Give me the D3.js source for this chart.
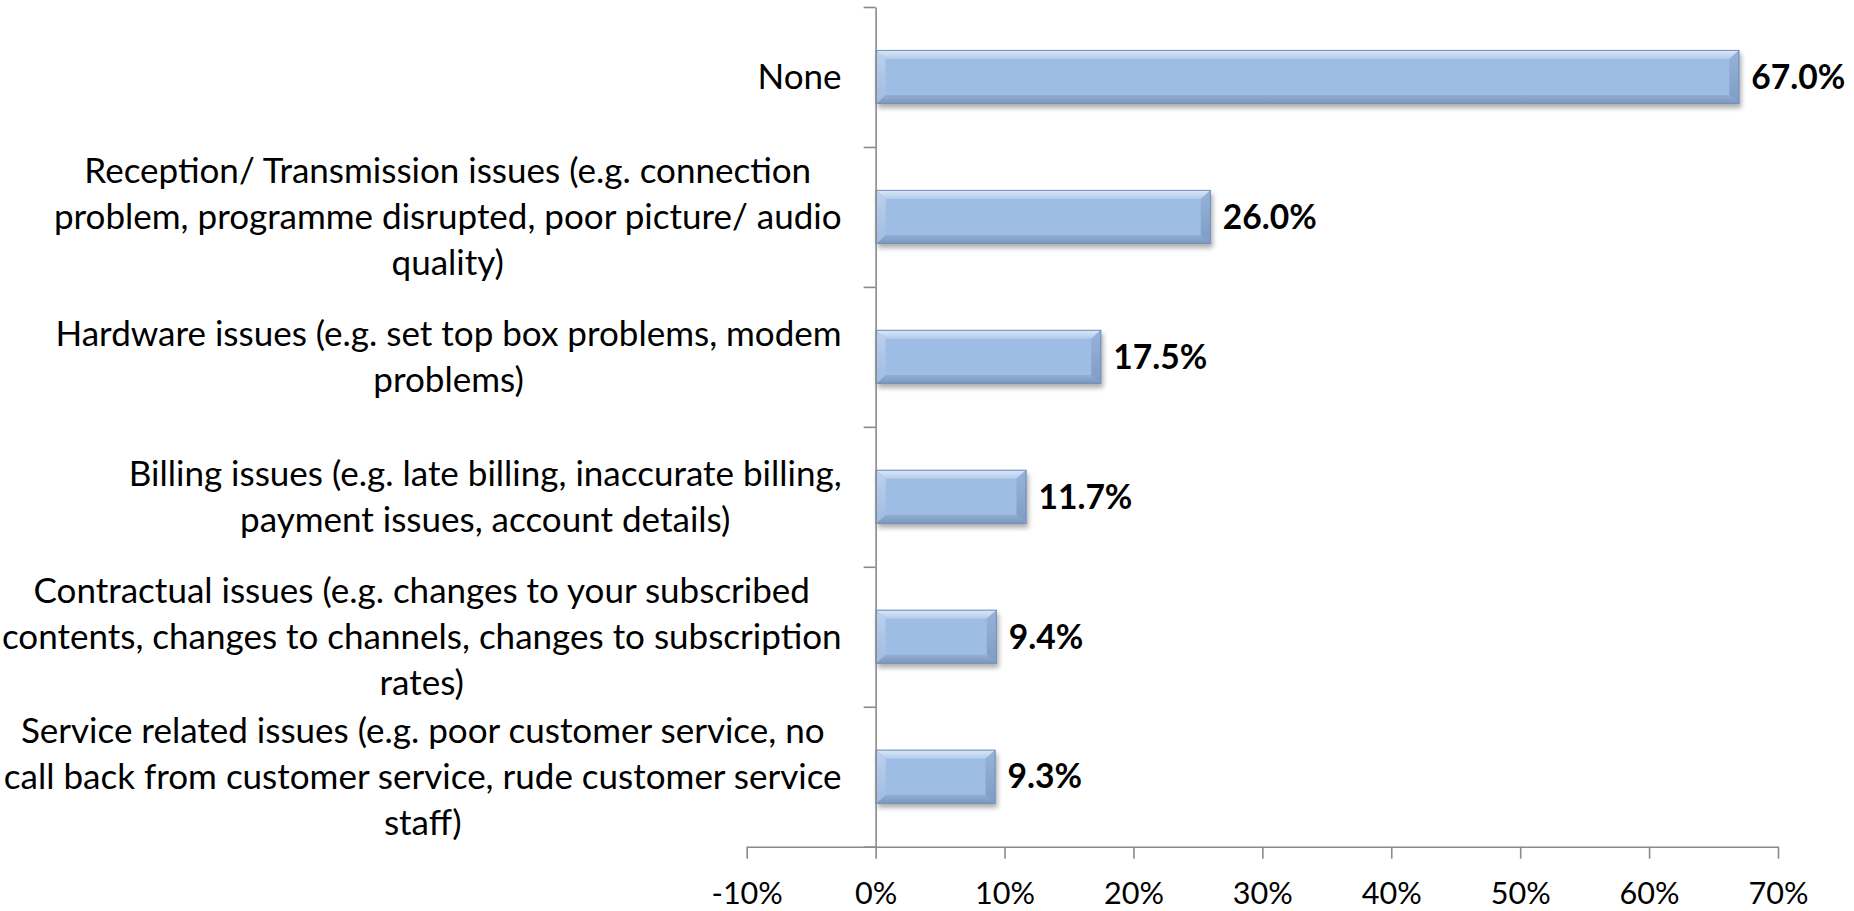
<!DOCTYPE html>
<html>
<head>
<meta charset="utf-8">
<script src="https://cdn.jsdelivr.net/npm/d3@7"></script>
<style>
  html, body { margin: 0; padding: 0; background: #ffffff; overflow: hidden; }
  svg { display: block; }
</style>
</head>
<body>
<svg id="chart" width="1854" height="911"></svg>
<script>
// Problems experienced with the pay-TV service (share of respondents)
const categories = [
  ["None"],
  ["Reception/ Transmission issues (e.g. connection",
   "problem, programme disrupted, poor picture/ audio",
   "quality)"],
  ["Hardware issues (e.g. set top box problems, modem",
   "problems)"],
  ["Billing issues (e.g. late billing, inaccurate billing,",
   "payment issues, account details)"],
  ["Contractual issues (e.g. changes to your subscribed",
   "contents, changes to channels, changes to subscription",
   "rates)"],
  ["Service related issues (e.g. poor customer service, no",
   "call back from customer service, rude customer service",
   "staff)"]
];
const values = [67.0, 26.0, 17.5, 11.7, 9.4, 9.3];
const valueLabels = ["67.0%", "26.0%", "17.5%", "11.7%", "9.4%", "9.3%"];
const tickValues = [-10, 0, 10, 20, 30, 40, 50, 60, 70];
const tickLabels = ["-10%", "0%", "10%", "20%", "30%", "40%", "50%", "60%", "70%"];

const W = 1854, H = 911;
const FONT = "Lato, 'Open Sans', 'Noto Sans', sans-serif";
const svg = d3.select("#chart");

const plot = { left: 746.7, right: 1778, top: 7, bottom: 846.7 };

const x = d3.scaleLinear().domain([-10, 70]).range([plot.left, plot.right]);
const y = d3.scaleBand()
  .domain(d3.range(categories.length))
  .range([plot.top, plot.bottom])
  .paddingInner(0.614)
  .paddingOuter(0.307);
// category boundaries for the tick marks between categories
const yEdge = d3.scaleLinear().domain([0, categories.length]).range([plot.top, plot.bottom]);

// size a font so that a sample string reaches a given width
function fitSize(family, weight, sample, target) {
  const base = 40;
  const t = svg.append("text")
    .attr("font-family", family).attr("font-weight", weight)
    .attr("font-size", base).text(sample);
  const w = t.node().getComputedTextLength();
  t.remove();
  return base * target / w;
}
const catSize = fitSize(FONT, 400, categories[1][1], 788);
const tickSize = fitSize(FONT, 400, "70%", 60);
const valSize = fitSize(FONT, 700, "26.0%", 94);

// ---- gradients and filters for the bevelled bars
const defs = svg.append("defs");
function vGrad(id, c0, c1) {
  const g = defs.append("linearGradient").attr("id", id)
    .attr("x1", 0).attr("y1", 0).attr("x2", 0).attr("y2", 1);
  g.append("stop").attr("offset", "0%").attr("stop-color", c0);
  g.append("stop").attr("offset", "100%").attr("stop-color", c1);
}
vGrad("bevTop", "#dde9f8", "#b2cbeb");
vGrad("bevBottom", "#93aed3", "#7a96bd");
vGrad("bevLeft", "#bcd2ef", "#9fbbe0");
vGrad("bevRight", "#97b3da", "#7f9cc4");
defs.append("filter").attr("id", "barShadow")
  .attr("x", "-10%").attr("y", "-30%").attr("width", "120%").attr("height", "170%")
  .append("feGaussianBlur").attr("stdDeviation", 2.6);

// ---- bars
const bx = 10, by = 9;
const bars = svg.append("g").attr("class", "bars")
  .selectAll("g").data(values).join("g")
  .attr("transform", (d, i) => `translate(${x(0)},${y(i)})`);

bars.each(function (d) {
  const g = d3.select(this);
  const w = x(d) - x(0), h = y.bandwidth();
  g.append("rect").attr("x", 2).attr("y", 4).attr("width", w).attr("height", h)
    .attr("fill", "#000").attr("opacity", 0.32).attr("filter", "url(#barShadow)");
  g.append("rect").attr("width", w).attr("height", h).attr("fill", "#9dbde5");
  g.append("polygon").attr("points", [[0, 0], [w, 0], [w - bx, by], [bx, by]].join(" "))
    .attr("fill", "url(#bevTop)");
  g.append("polygon").attr("points", [[0, h], [w, h], [w - bx, h - by], [bx, h - by]].join(" "))
    .attr("fill", "url(#bevBottom)");
  g.append("polygon").attr("points", [[0, 0], [bx, by], [bx, h - by], [0, h]].join(" "))
    .attr("fill", "url(#bevLeft)");
  g.append("polygon").attr("points", [[w, 0], [w - bx, by], [w - bx, h - by], [w, h]].join(" "))
    .attr("fill", "url(#bevRight)");
  g.append("rect").attr("x", 0.5).attr("y", 0.5).attr("width", w - 1).attr("height", h - 1)
    .attr("fill", "none").attr("stroke", "#7391bb").attr("stroke-width", 1);
});

// ---- value labels
svg.append("g").attr("class", "values")
  .selectAll("text").data(values).join("text")
  .attr("x", d => x(d) + 12)
  .attr("y", (d, i) => y(i) + y.bandwidth() / 2)
  .attr("dy", "0.35em")
  .attr("font-family", FONT).attr("font-weight", 700)
  .attr("font-size", valSize).attr("fill", "#000")
  .text((d, i) => valueLabels[i]);

// ---- horizontal (value) axis
const xAxis = d3.axisBottom(x)
  .tickValues(tickValues)
  .tickSize(12).tickSizeOuter(0).tickPadding(24)
  .tickFormat((d, i) => tickLabels[i]);
const gx = svg.append("g").attr("transform", `translate(0,${plot.bottom})`).call(xAxis);
gx.select(".domain").attr("stroke", "#8a8a8a").attr("stroke-width", 1.6);
gx.selectAll(".tick line").attr("stroke", "#8a8a8a").attr("stroke-width", 1.6);
gx.selectAll(".tick text")
  .attr("font-family", FONT).attr("font-size", tickSize).attr("fill", "#000");

// ---- vertical (category) axis at zero
const yAxis = d3.axisLeft(yEdge)
  .tickValues(d3.range(categories.length + 1))
  .tickSize(12).tickSizeOuter(0).tickFormat("");
const gy = svg.append("g").attr("transform", `translate(${x(0)},0)`).call(yAxis);
gy.select(".domain").attr("stroke", "#8a8a8a").attr("stroke-width", 1.6);
gy.selectAll(".tick line").attr("stroke", "#8a8a8a").attr("stroke-width", 1.6);

// ---- category labels: wrapped lines centred within a block right-aligned to the axis
const labelRight = x(0) - 34;
const lineGap = 46;
const labels = svg.append("g").attr("class", "categories");
categories.forEach((lines, i) => {
  const cy = y(i) + y.bandwidth() / 2;
  const t = labels.append("text")
    .attr("font-family", FONT).attr("font-size", catSize).attr("fill", "#000")
    .attr("text-anchor", "middle");
  const spans = t.selectAll("tspan").data(lines).join("tspan").text(d => d);
  let maxW = 0;
  spans.each(function () { maxW = Math.max(maxW, this.getComputedTextLength()); });
  const cx = labelRight - maxW / 2;
  spans.attr("x", cx)
    .attr("y", (d, k) => cy + (k - (lines.length - 1) / 2) * lineGap)
    .attr("dy", "0.35em");
});
</script>
</body>
</html>
